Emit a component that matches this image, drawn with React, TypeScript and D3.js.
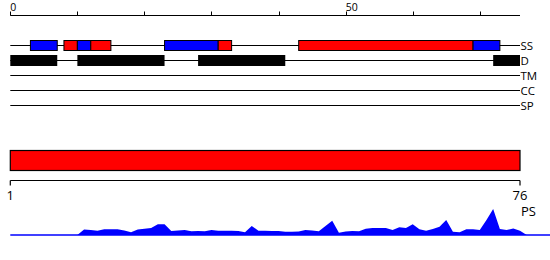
import React from "react";
import * as d3 from "d3";

const W = 550;
const H = 260;
const LENGTH = 76;

// secondary structure segments (SS track)
const ssStart = [3, 8, 10, 12, 23, 31, 43, 69];
const ssEnd = [7, 10, 12, 15, 31, 33, 69, 73];
const ssType = ["blue", "red", "blue", "red", "blue", "red", "red", "blue"];

// disorder segments (D track)
const dStart = [0, 10, 28, 72];
const dEnd = [7, 23, 41, 76];

const trackNames = ["SS", "D", "TM", "CC", "SP"];

// full-length domain bar
const domainStart = [1];
const domainEnd = [76];
const bottomTicks = [1, 76];

const topTicks = [0, 10, 20, 30, 40, 50, 60, 70];
const topLabels = [0, 50];

// PS profile
const psPos = [10, 11, 12, 13, 14, 15, 16, 17, 18, 19, 20, 21, 22, 23, 24, 25, 26, 27, 28, 29, 30, 31, 32, 33, 34, 35, 36, 37, 38, 39, 40, 41, 42, 43, 44, 45, 46, 47, 48, 49, 50, 51, 52, 53, 54, 55, 56, 57, 58, 59, 60, 61, 62, 63, 64, 65, 66, 67, 68, 69, 70, 71, 72, 73, 74, 75, 76, 77];
const psVal = [0, 5.6, 5, 4.3, 5.7, 5.7, 5.7, 4.5, 2.7, 5.5, 6.3, 7, 10.7, 10.7, 4, 4.5, 5, 3.7, 4, 3.7, 5, 4.3, 4.3, 4.3, 4, 2.7, 9, 4.3, 4.3, 4, 4, 3.3, 3.3, 3.5, 5, 4.5, 3.7, 9, 14.3, 2.3, 3.5, 4, 3.7, 6.3, 7, 7, 7, 5, 7.7, 7, 10.7, 5.7, 4.3, 6, 8.3, 15, 3.3, 2.7, 5.7, 5.7, 5, 15, 26, 6, 5, 6.5, 4.3, 0];

const RED = "#ff0000";
const BLUE = "#0000ff";
const FONT = "'Open Sans', sans-serif";

export default function App() {
  const x = d3.scaleLinear().domain([0, LENGTH]).range([10.3, 520]);
  const xb = d3.scaleLinear().domain([1, 76]).range([10.3, 520]);
  const y = d3.scaleLinear().domain([0, 30]).range([235, 205]);
  const trackY = d3.scalePoint<string>().domain(trackNames).range([45, 105]);

  const area = d3
    .area<number>()
    .x((_, i) => x(psPos[i]))
    .y0(y(0))
    .y1((d) => y(d));

  const ssY = trackY("SS")!;
  const dY = trackY("D")!;

  return (
    <svg
      width={W}
      height={H}
      style={{ position: "absolute", left: 0, top: 0, background: "#fff" }}
      fontFamily={FONT}
    >
      {/* top axis */}
      <line x1={x(0)} x2={x(LENGTH)} y1={15.5} y2={15.5} stroke="#000" />
      {topTicks.map((t) => (
        <line key={t} x1={Math.round(x(t)) + 0.5} x2={Math.round(x(t)) + 0.5} y1={11.5} y2={15.5} stroke="#000" />
      ))}
      {topLabels.map((t) => (
        <text key={t} x={x(t)} y={10.5} fontSize={10.5} fill="#000">
          {t}
        </text>
      ))}

      {/* track lines */}
      {trackNames.map((n) => (
        <g key={n}>
          <line x1={x(0)} x2={x(LENGTH)} y1={trackY(n)! + 0.5} y2={trackY(n)! + 0.5} stroke="#000" />
          <text x={520.5} y={trackY(n)! + 5} fontSize={11.5} fill="#000">
            {n}
          </text>
        </g>
      ))}

      {/* SS segments */}
      {ssStart.map((s, i) => (
        <rect
          key={i}
          x={x(s)}
          y={ssY - 4.5}
          width={x(ssEnd[i]) - x(s)}
          height={10}
          fill={ssType[i] === "red" ? RED : BLUE}
          stroke="#000"
        />
      ))}

      {/* D segments */}
      {dStart.map((s, i) => (
        <rect key={i} x={x(s)} y={dY - 5} width={x(dEnd[i]) - x(s)} height={11} fill="#000" />
      ))}

      {/* domain bar */}
      {domainStart.map((s, i) => (
        <rect
          key={i}
          x={xb(s)}
          y={150.5}
          width={xb(domainEnd[i]) - xb(s)}
          height={20}
          fill={RED}
          stroke="#000"
          strokeWidth={1.2}
        />
      ))}

      {/* bottom axis */}
      <line x1={xb(1)} x2={xb(76)} y1={180.5} y2={180.5} stroke="#000" strokeWidth={1.2} />
      {bottomTicks.map((t) => (
        <g key={t}>
          <line x1={xb(t)} x2={xb(t)} y1={180.5} y2={185.5} stroke="#000" strokeWidth={1.2} />
          <text x={xb(t)} y={200} fontSize={13} textAnchor="middle" fill="#000">
            {t}
          </text>
        </g>
      ))}

      {/* PS profile */}
      <text x={521} y={216} fontSize={13} fill="#000">
        PS
      </text>
      <path d={area(psVal) || ""} fill={BLUE} />
      <line x1={x(0)} x2={W} y1={235} y2={235} stroke={BLUE} strokeWidth={1.5} />
    </svg>
  );
}
